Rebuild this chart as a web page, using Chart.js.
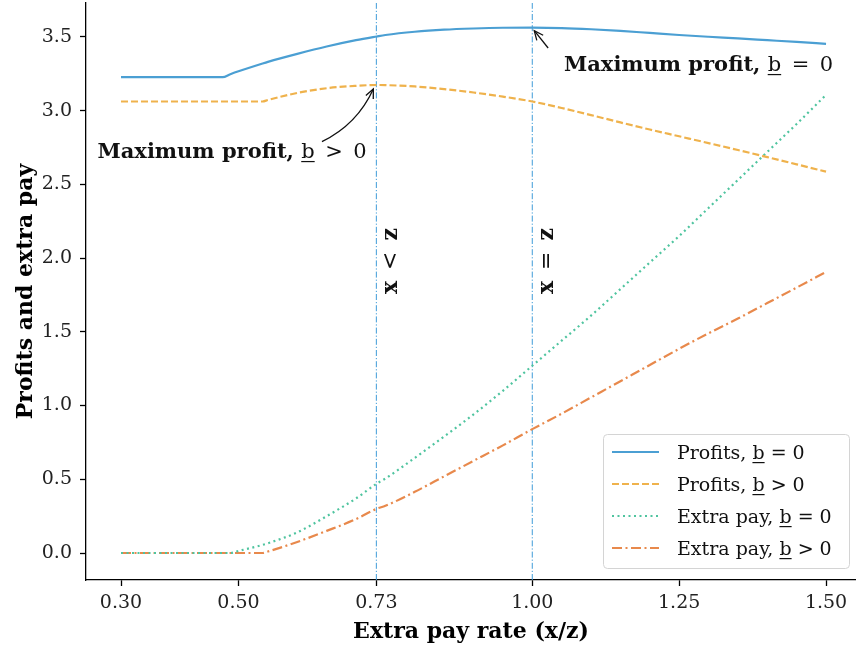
<!DOCTYPE html>
<html>
<head>
<meta charset="utf-8">
<script src="https://cdn.jsdelivr.net/npm/chart.js@4.4.1/dist/chart.umd.min.js"></script>
<style>
  html, body { margin: 0; padding: 0; background: #fff; }
</style>
</head>
<body>
<canvas id="chart" width="856" height="652"></canvas>
<script>
// extra pay rate (x/z)
const xRate = [0.30, 0.35, 0.40, 0.45, 0.473, 0.486, 0.50, 0.541, 0.55, 0.60, 0.65, 0.70, 0.735, 0.75,
               0.80, 0.85, 0.90, 0.95, 1.00, 1.05, 1.10, 1.15, 1.20, 1.25, 1.30, 1.35, 1.40, 1.45, 1.50];

const profitsB0 = [3.227, 3.227, 3.227, 3.227, 3.227, 3.247, 3.267, 3.320, 3.331, 3.385, 3.435, 3.478, 3.503, 3.513,
                   3.535, 3.549, 3.557, 3.562, 3.563, 3.560, 3.552, 3.541, 3.527, 3.513, 3.501, 3.490, 3.478, 3.466, 3.453];
const profitsBpos = [3.062, 3.062, 3.062, 3.062, 3.062, 3.062, 3.062, 3.062, 3.072, 3.120, 3.152, 3.168, 3.174, 3.173,
                     3.164, 3.146, 3.123, 3.095, 3.062, 3.018, 2.970, 2.920, 2.872, 2.826, 2.780, 2.733, 2.685, 2.636, 2.586];
const extraB0 = [0, 0, 0, 0, 0, 0, 0.014, 0.055, 0.066, 0.140, 0.250, 0.370, 0.470, 0.505,
                 0.645, 0.790, 0.940, 1.100, 1.270, 1.440, 1.610, 1.790, 1.970, 2.150, 2.340, 2.530, 2.720, 2.910, 3.107];
const extraBpos = [0, 0, 0, 0, 0, 0, 0, 0, 0.010, 0.075, 0.150, 0.230, 0.300, 0.320,
                   0.415, 0.520, 0.625, 0.730, 0.840, 0.945, 1.055, 1.165, 1.275, 1.385, 1.490, 1.590, 1.695, 1.800, 1.906];

const seriesLabels = ['Profits, ', 'Profits, ', 'Extra pay, ', 'Extra pay, '];
const seriesRel = [' = 0', ' > 0', ' = 0', ' > 0'];

const xTicks = [0.30, 0.50, 0.7346, 1.00, 1.25, 1.50];
const yTicks = [0, 0.5, 1.0, 1.5, 2.0, 2.5, 3.0, 3.5];
const markers = [0.7346, 1.00];

const X_MIN = 0.2404, X_MAX = 1.551, Y_MIN = -0.183, Y_MAX = 3.73;
const FONT = "'DejaVu Serif', serif";

const pts = ys => xRate.map((x, i) => ({x: x, y: ys[i]}));

const colors = ['#4b9fd3', '#efb24c', '#4fc49f', '#e8894c'];
const dashes = [[], [7, 3], [2, 3.5], [10, 3.5, 2, 3.5]];

const datasets = [profitsB0, profitsBpos, extraB0, extraBpos].map((ys, i) => ({
    label: seriesLabels[i] + 'b' + seriesRel[i],
    data: pts(ys),
    borderColor: colors[i],
    borderWidth: 2.2,
    borderDash: dashes[i],
    cubicInterpolationMode: 'monotone',
    pointRadius: 0,
    fill: false,
}));

markers.forEach(m => {
    datasets.push({
        label: 'marker',
        data: [{x: m, y: Y_MIN}, {x: m, y: Y_MAX}],
        borderColor: '#3f9bd8',
        borderWidth: 1,
        borderDash: [6, 2, 1.2, 2],
        pointRadius: 0,
        fill: false,
    });
});

// draws text pieces side by side: [text, bold, underline]
function drawPieces(ctx, pieces, x, y, size) {
    let cx = x;
    pieces.forEach(([t, bold, under]) => {
        ctx.font = (bold ? 'bold ' : '') + size + 'px ' + FONT;
        ctx.fillText(t, cx, y);
        const w = ctx.measureText(t).width;
        if (under) {
            ctx.fillRect(cx, y + 3, w, 1.2);
        }
        cx += w;
    });
    return cx - x;
}

function piecesWidth(ctx, pieces, size) {
    let w = 0;
    pieces.forEach(([t, bold]) => {
        ctx.font = (bold ? 'bold ' : '') + size + 'px ' + FONT;
        w += ctx.measureText(t).width;
    });
    return w;
}

function arrowHead(ctx, x, y, ang) {
    const len = 10, spread = 0.42;
    ctx.beginPath();
    ctx.moveTo(x - len * Math.cos(ang - spread), y - len * Math.sin(ang - spread));
    ctx.lineTo(x, y);
    ctx.lineTo(x - len * Math.cos(ang + spread), y - len * Math.sin(ang + spread));
    ctx.stroke();
}

const extras = {
    id: 'extras',
    afterDraw(chart) {
        const ctx = chart.ctx;
        const sx = chart.scales.x, sy = chart.scales.y;
        const px = v => sx.getPixelForValue(v);
        const py = v => sy.getPixelForValue(v);
        ctx.save();
        ctx.fillStyle = '#111';
        ctx.strokeStyle = '#111';
        ctx.textBaseline = 'alphabetic';
        ctx.textAlign = 'left';

        // annotation: b = 0
        drawPieces(ctx, [['Maximum profit, ', true], ['b', false, true], ['\u2002=\u20020', false]], px(1.054), py(3.269), 21);
        ctx.lineWidth = 1.3;
        let tx = px(1.027), ty = py(3.425), hx = px(1.0) + 2, hy = py(3.563) + 3;
        ctx.beginPath();
        ctx.moveTo(tx, ty);
        ctx.lineTo(hx, hy);
        ctx.stroke();
        arrowHead(ctx, hx, hy, Math.atan2(hy - ty, hx - tx));

        // annotation: b > 0
        drawPieces(ctx, [['Maximum profit, ', true], ['b', false, true], ['\u2002>\u20020', false]], px(0.260), py(2.679), 21);
        tx = px(0.642); ty = py(2.79); hx = px(0.7346) - 3; hy = py(3.174) + 4;
        const mx = (tx + hx) / 2, my = (ty + hy) / 2;
        const cx = mx + 0.18 * (-(hy - ty)), cy = my + 0.18 * (hx - tx);
        ctx.beginPath();
        ctx.moveTo(tx, ty);
        ctx.quadraticCurveTo(cx, cy, hx, hy);
        ctx.stroke();
        arrowHead(ctx, hx, hy, Math.atan2(hy - cy, hx - cx));

        // rotated labels beside marker lines
        [[0.7703, '\u2002<\u2002'], [1.0357, '\u2002=\u2002']].forEach(([xv, rel]) => {
            const pieces = [['x', true], [rel, false], ['z', true]];
            ctx.save();
            ctx.translate(px(xv), py(1.98));
            ctx.rotate(-Math.PI / 2);
            const w = piecesWidth(ctx, pieces, 22);
            drawPieces(ctx, pieces, -w / 2, 0, 22);
            ctx.restore();
        });

        // legend
        const L = 603, T = 434, W = 246, H = 134;
        ctx.fillStyle = 'rgba(255,255,255,0.85)';
        ctx.strokeStyle = '#d4d4d4';
        ctx.lineWidth = 1;
        ctx.beginPath();
        ctx.roundRect(L + 0.5, T + 0.5, W, H, 4);
        ctx.fill();
        ctx.stroke();
        for (let i = 0; i < 4; i++) {
            const ds = chart.data.datasets[i];
            const rowY = 452 + i * 32;
            ctx.strokeStyle = ds.borderColor;
            ctx.lineWidth = ds.borderWidth;
            ctx.setLineDash(ds.borderDash);
            ctx.beginPath();
            ctx.moveTo(612, rowY);
            ctx.lineTo(659, rowY);
            ctx.stroke();
            ctx.setLineDash([]);
            ctx.fillStyle = '#111';
            drawPieces(ctx, [[seriesLabels[i], false], ['b', false, true], [seriesRel[i], false]], 677, rowY + 7, 19);
        }
        ctx.restore();
    }
};

new Chart(document.getElementById('chart'), {
    type: 'line',
    data: {datasets: datasets},
    options: {
        responsive: false,
        animation: false,
        devicePixelRatio: 1,
        layout: {padding: {top: 3, right: 0, left: 0, bottom: 0}},
        plugins: {
            legend: {display: false},
            tooltip: {enabled: false},
        },
        scales: {
            x: {
                type: 'linear',
                min: X_MIN,
                max: X_MAX,
                afterFit: s => { s.height = 72; s.paddingLeft = 0; s.paddingRight = 0; },
                afterBuildTicks: s => { s.ticks = xTicks.map(v => ({value: v})); },
                ticks: {
                    callback: v => v.toFixed(2),
                    font: {family: FONT, size: 19},
                    color: '#222',
                    padding: 6,
                    autoSkip: false,
                    maxRotation: 0,
                },
                grid: {drawOnChartArea: false, drawTicks: true, tickLength: 6, tickWidth: 1.3, tickColor: '#000'},
                border: {color: '#000', width: 1.3},
                title: {
                    display: true,
                    text: 'Extra pay rate (x/z)',
                    font: {family: FONT, size: 22, weight: 'bold'},
                    color: '#000',
                    padding: {top: 0, bottom: 7},
                },
            },
            y: {
                min: Y_MIN,
                max: Y_MAX,
                afterFit: s => { s.width = 86; s.paddingTop = 0; s.paddingBottom = 0; },
                afterBuildTicks: s => { s.ticks = yTicks.map(v => ({value: v})); },
                ticks: {
                    callback: v => v.toFixed(1),
                    font: {family: FONT, size: 19},
                    color: '#222',
                    padding: 8,
                },
                grid: {drawOnChartArea: false, drawTicks: true, tickLength: 6, tickWidth: 1.3, tickColor: '#000'},
                border: {color: '#000', width: 1.3},
                title: {
                    display: true,
                    text: 'Profits and extra pay',
                    font: {family: FONT, size: 22, weight: 'bold'},
                    color: '#000',
                    padding: {top: 13, bottom: 0},
                },
            },
        },
    },
    plugins: [extras],
});
</script>
</body>
</html>
